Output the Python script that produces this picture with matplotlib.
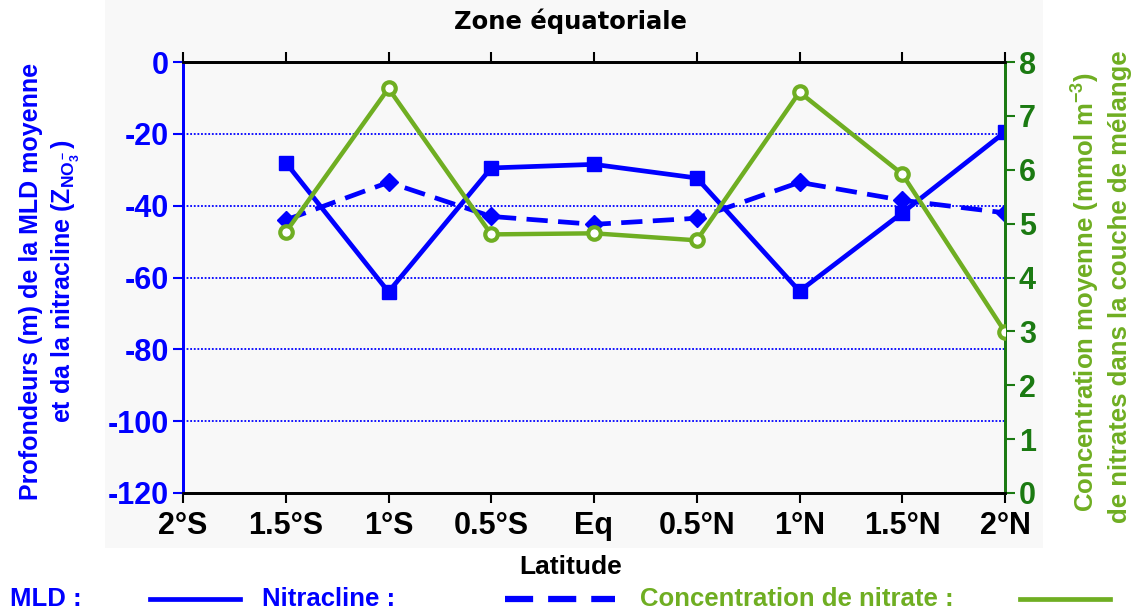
import matplotlib
matplotlib.use('Agg')
import matplotlib.pyplot as plt
from matplotlib.lines import Line2D
from matplotlib.patches import Rectangle

plt.rcParams['font.family'] = ['Liberation Sans', 'DejaVu Sans']
plt.rcParams['font.weight'] = 'bold'
plt.rcParams['mathtext.fontset'] = 'custom'
plt.rcParams['mathtext.rm'] = 'Liberation Sans:bold'
plt.rcParams['mathtext.bf'] = 'Liberation Sans:bold'

# Latitudes (degrees, south negative)
lat = [-2, -1.5, -1, -0.5, 0, 0.5, 1, 1.5, 2]
lat_labels = ['2°S', '1.5°S', '1°S', '0.5°S', 'Eq', '0.5°N', '1°N', '1.5°N', '2°N']

# Stations with data
lat_data = [-1.5, -1, -0.5, 0, 0.5, 1, 1.5, 2]
mld = [-28, -64, -29.5, -28.5, -32.3, -63.8, -42, -19.5]
nitracline = [-44, -33.5, -43, -45.2, -43.5, -33.5, -38.5, -42]
nitrate = [4.84, 7.51, 4.8, 4.82, 4.69, 7.44, 5.92, 2.99]

blue = '#0000ff'
green = '#6fae22'
dkgreen = '#1b7a12'

fig = plt.figure(figsize=(11.37, 6.10), dpi=100)
fig.patches.append(Rectangle((105 / 1137, 1 - 548 / 610), (1043 - 105) / 1137, 548 / 610,
                             transform=fig.transFigure, facecolor='#f8f8f8',
                             edgecolor='none', zorder=-10))

ax = fig.add_axes([183 / 1137, 1 - 493 / 610, (1005 - 183) / 1137, (493 - 62) / 610])
ax.patch.set_alpha(0)
ax2 = ax.twinx()

ax.set_xlim(-2, 2)
ax.set_ylim(-120, 0)
ax2.set_ylim(0, 8)

# horizontal dotted grid
for yv in [-20, -40, -60, -80, -100]:
    ax.axhline(yv, color=blue, linestyle=(0, (1, 1)), linewidth=1.3, zorder=1)

ax.plot(lat_data, mld, color=blue, linewidth=3.4, marker='s', markersize=10,
        markerfacecolor=blue, markeredgecolor=blue, zorder=3)
ax.plot(lat_data, nitracline, color=blue, linewidth=3.4, linestyle=(0, (4.5, 2.2)),
        marker='D', markersize=9, markerfacecolor=blue, markeredgecolor=blue, zorder=3)
ax2.plot(lat_data, nitrate, color=green, linewidth=3.2, marker='o', markersize=9,
         markerfacecolor='white', markeredgecolor=green, markeredgewidth=3, zorder=3)

ax.set_xticks(lat)
ax.set_xticklabels(lat_labels, fontsize=22, fontweight='bold')
ax.tick_params(axis='x', direction='out', length=7, width=1.5, pad=6, top=True)
ax.set_yticks([0, -20, -40, -60, -80, -100, -120])
ax.set_yticklabels(['0', '-20', '-40', '-60', '-80', '-100', '-120'], fontsize=22,
                   fontweight='bold', color=blue)
ax.tick_params(axis='y', direction='out', length=7, width=1.5, color=blue, pad=3)

ax2.set_yticks(range(0, 9))
ax2.set_yticklabels([str(v) for v in range(0, 9)], fontsize=22, fontweight='bold',
                    color=dkgreen)
ax2.tick_params(axis='y', direction='out', length=7, width=1.5, color=dkgreen, pad=3)

for a in (ax, ax2):
    a.spines['top'].set_linewidth(2)
    a.spines['bottom'].set_linewidth(2)
    a.spines['left'].set_color(blue)
    a.spines['left'].set_linewidth(2)
    a.spines['right'].set_color(dkgreen)
    a.spines['right'].set_linewidth(2)

# titles and axis labels
fig.text(570 / 1137, 1 - 21 / 610, 'Zone équatoriale', ha='center', va='center',
         fontsize=17.5, fontweight='bold', family=['DejaVu Sans'])
fig.text(571 / 1137, 1 - 567 / 610, 'Latitude', ha='center', va='center',
         fontsize=19, fontweight='bold')
fig.text(31 / 1137, 1 - 281 / 610, 'Profondeurs (m) de la MLD moyenne', rotation=90,
         ha='center', va='center', fontsize=18, fontweight='bold', color=blue)
fig.text(66 / 1137, 1 - 281 / 610, r'et da la nitracline (Z$_{\mathrm{NO}_3^-}$)', rotation=90,
         ha='center', va='center', fontsize=18, fontweight='bold', color=blue)
fig.text(1085 / 1137, 1 - 292 / 610, r'Concentration moyenne (mmol m$^{-3}$)', rotation=90,
         ha='center', va='center', fontsize=18.5, fontweight='bold', color=green)
fig.text(1120 / 1137, 1 - 287 / 610, 'de nitrates dans la couche de mélange', rotation=90,
         ha='center', va='center', fontsize=18.5, fontweight='bold', color=green)

# legend row along the bottom
ly = 1 - 599 / 610
fig.text(10 / 1137, ly, 'MLD :', ha='left', va='center', fontsize=18.5, fontweight='bold',
         color=blue)
fig.add_artist(Line2D([150 / 1137, 240 / 1137], [ly, ly], color=blue, linewidth=3.4,
                      transform=fig.transFigure))
fig.text(262 / 1137, ly, 'Nitracline :', ha='left', va='center', fontsize=18.5,
         fontweight='bold', color=blue)
fig.add_artist(Line2D([505 / 1137, 615 / 1137], [ly, ly], color=blue, linewidth=4.5,
                      linestyle=(0, (4.5, 2.4)), transform=fig.transFigure))
fig.text(640 / 1137, ly, 'Concentration de nitrate :', ha='left', va='center', fontsize=18.5,
         fontweight='bold', color=green)
fig.add_artist(Line2D([1020 / 1137, 1110 / 1137], [ly, ly], color=green, linewidth=3.4,
                      transform=fig.transFigure))

fig.savefig('out.png', dpi=100)
